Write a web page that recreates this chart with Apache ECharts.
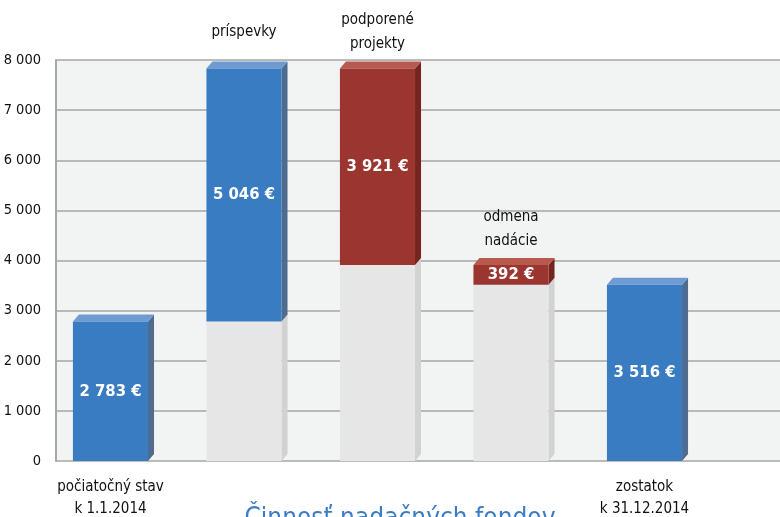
<!DOCTYPE html>
<html>
<head>
<meta charset="utf-8">
<script src="https://cdn.jsdelivr.net/npm/echarts@6/dist/echarts.min.js"></script>
<style>html,body{margin:0;padding:0;background:#fff}#c{width:780px;height:517px}</style>
</head>
<body>
<div id="c"></div>
<script>
var categories = ['počiatočný stav\nk 1.1.2014', 'príspevky', 'podporené\nprojekty', 'odmena\nnadácie', 'zostatok\nk 31.12.2014'];
var values = [2783, 5046, -3921, -392, 3516];
var kinds = ['total', 'increase', 'decrease', 'decrease', 'total'];
var valueLabels = ['2 783 €', '5 046 €', '3 921 €', '392 €', '3 516 €'];
var yTicks = [0, 1000, 2000, 3000, 4000, 5000, 6000, 7000, 8000];
var titleText = 'Činnosť nadačných fondov';

var FONT = '"Liberation Sans Narrow", "DejaVu Sans Condensed", "Open Sans", sans-serif';

// waterfall: compute base & top from values
var running = 0;
var data = [];
for (var i = 0; i < values.length; i++) {
  var lo, hi;
  if (kinds[i] === 'total') { lo = 0; hi = values[i]; running = values[i]; }
  else if (values[i] >= 0) { lo = running; hi = running + values[i]; running = hi; }
  else { hi = running; lo = running + values[i]; running = lo; }
  data.push([i, lo, hi]);
}

var colors = {
  blue: {front: '#3a7cc1', top: '#6f9bd3', side: '#4f6b8f'},
  red: {front: '#9b3530', top: '#b95a4e', side: '#76241f'},
  ghost: {front: '#e6e6e6', top: '#ececec', side: '#d2d2d2'}
};

function box(x0, x1, yTop, yBot, dx, dy, c, z) {
  return [
    {type: 'polygon', z2: z, shape: {points: [[x1, yTop], [x1 + dx, yTop - dy], [x1 + dx, yBot - dy], [x1, yBot]]}, style: {fill: c.side}},
    {type: 'polygon', z2: z, shape: {points: [[x0, yTop], [x0 + dx, yTop - dy], [x1 + dx, yTop - dy], [x1, yTop]]}, style: {fill: c.top}},
    {type: 'rect', z2: z + 1, shape: {x: x0, y: yTop, width: x1 - x0, height: yBot - yTop}, style: {fill: c.front}}
  ];
}

var chart = echarts.init(document.getElementById('c'), null, {renderer: 'canvas'});
chart.setOption({
  animation: false,
  backgroundColor: '#ffffff',
  title: {
    text: titleText, left: 395, top: 501, textAlign: 'center',
    textStyle: {color: '#3b7cc4', fontFamily: FONT, fontSize: 26, fontWeight: 'normal'}
  },
  grid: {left: 56, right: 0, top: 60, bottom: 56, show: true, backgroundColor: '#f2f3f3', borderWidth: 0},
  xAxis: {type: 'value', min: -0.408, max: 5.015, show: false},
  yAxis: {
    type: 'value', min: 0, max: 8000, interval: 1000,
    axisLine: {show: true, onZero: false, lineStyle: {color: '#a8a8a8', width: 2}},
    axisTick: {show: false},
    splitLine: {show: true, lineStyle: {color: '#a6a6a6', width: 1.5}},
    axisLabel: {
      margin: 15, color: '#111', fontFamily: FONT, fontSize: 14.5,
      formatter: function (v) { return String(v).replace(/\B(?=(\d{3})+(?!\d))/g, ' '); }
    }
  },
  series: [{
    type: 'custom',
    data: data,
    clip: false,
    renderItem: function (params, api) {
      var idx = api.value(0);
      var lo = api.value(1), hi = api.value(2);
      var w = api.size([0.5625, 0])[0];
      var c0 = api.coord([idx, 0]);
      var cLo = api.coord([idx, lo]);
      var cHi = api.coord([idx, hi]);
      var x0 = c0[0] - w / 2, x1 = c0[0] + w / 2;
      var dx = 6, dy = 7;
      var kind = kinds[params.dataIndex];
      var col = kind === 'decrease' ? colors.red : colors.blue;
      var children = [];
      if (lo > 0) children = children.concat(box(x0, x1, cLo[1], c0[1], dx, dy, colors.ghost, 1));
      children = children.concat(box(x0, x1, cHi[1], cLo[1], dx, dy, col, 3));
      children.push({
        type: 'text', z2: 10,
        style: {
          text: valueLabels[params.dataIndex], x: c0[0], y: (cHi[1] + cLo[1]) / 2,
          align: 'center', verticalAlign: 'middle', fill: '#ffffff',
          font: 'bold 16.5px ' + FONT
        }
      });
      var cat = categories[params.dataIndex];
      if (kind === 'total') {
        children.push({
          type: 'text', z2: 10,
          style: {
            text: cat, x: c0[0], y: c0[1] + 15, align: 'center', verticalAlign: 'top',
            fill: '#111', font: '15px ' + FONT, lineHeight: 22
          }
        });
      } else {
        children.push({
          type: 'text', z2: 10,
          style: {
            text: cat, x: c0[0], y: cHi[1] - dy - 29, align: 'center', verticalAlign: 'middle',
            fill: '#111', font: '15px ' + FONT, lineHeight: 24
          }
        });
      }
      return {type: 'group', children: children};
    }
  }]
});
</script>
</body>
</html>
